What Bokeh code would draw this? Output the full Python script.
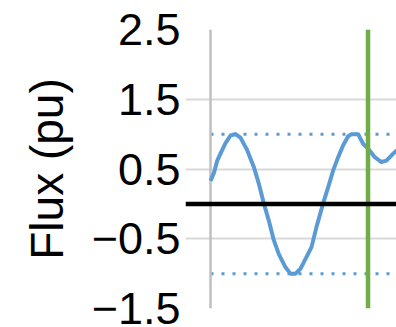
from bokeh.plotting import figure
from bokeh.models import Range1d, FixedTicker, Span
from bokeh.embed import file_html
from bokeh.resources import INLINE

# time in ms (50 Hz), flux in per unit
time_ms = [0.0, 0.56, 1.14, 1.69, 2.54, 3.39, 4.24, 5.08, 6.22, 7.34, 8.19, 9.03,
           9.88, 10.73, 11.58, 12.71, 13.56, 14.41, 15.25, 15.98, 17.12, 17.97,
           19.10, 19.95, 20.80, 21.64, 22.49, 23.34, 23.90, 25.03, 25.88, 26.73,
           27.85, 28.98, 29.83, 30.97, 31.6]
flux_pu = [0.33, 0.44, 0.62, 0.72, 0.87, 0.98, 1.0, 0.95, 0.77, 0.53, 0.29, 0.01,
           -0.24, -0.52, -0.72, -0.91, -1.0, -1.0, -0.93, -0.81, -0.62, -0.33,
           0.01, 0.24, 0.48, 0.67, 0.84, 0.97, 1.0, 1.0, 0.86, 0.79,
           0.67, 0.60, 0.62, 0.72, 0.77]
limit_pu = [1.0, -1.0]
event_ms = 26.7
y_ticks = [-1.5, -0.5, 0.5, 1.5, 2.5]
y_tick_labels = ["\u22121.5", "\u22120.5", "0.5", "1.5", "2.5"]
y_min, y_max = -1.5, 2.5
x_min, x_max = -4.24, 31.53

p = figure(width=396, height=327, output_backend="svg", toolbar_location=None,
           x_range=Range1d(x_min, x_max), y_range=Range1d(y_min, y_max),
           x_axis_location=None, min_border_left=185, min_border_right=0,
           min_border_top=29, min_border_bottom=19)
p.outline_line_color = None
p.xgrid.grid_line_color = None
p.ygrid.grid_line_color = "#d9d9d9"
p.ygrid.grid_line_width = 2

ax = p.yaxis[0]
ax.ticker = FixedTicker(ticks=y_ticks)
ax.major_label_overrides = {t: l for t, l in zip(y_ticks, y_tick_labels)}
ax.axis_line_color = None
ax.major_tick_in = 0
ax.major_tick_out = 0
ax.minor_tick_line_color = None
ax.major_label_standoff = 5
ax.major_label_text_font = "Liberation Sans"
ax.major_label_text_font_size = "45px"
ax.major_label_text_color = "black"
ax.axis_label = "Flux (pu)"
ax.axis_label_text_font = "Liberation Sans"
ax.axis_label_text_font_size = "46px"
ax.axis_label_text_font_style = "normal"
ax.axis_label_text_color = "black"
ax.axis_label_standoff = 16

# dotted limits
for lv in limit_pu:
    p.line([0, x_max], [lv, lv], line_color="#5b9bd5", line_width=3, line_dash="3 8")

# value axis line
p.segment(x0=[0], y0=[y_min], x1=[0], y1=[y_max], line_color="#c0c0c0", line_width=2.5)

# flux curve
p.line(time_ms, flux_pu, line_color="#5b9bd5", line_width=4, line_join="round")

# event marker
p.segment(x0=[event_ms], y0=[y_min], x1=[event_ms], y1=[y_max], line_color="#70ad47", line_width=4.5)

# zero line
p.add_layout(Span(location=0, dimension="width", line_color="black", line_width=4.5))

open("out.html", "w").write(file_html(p, INLINE))
